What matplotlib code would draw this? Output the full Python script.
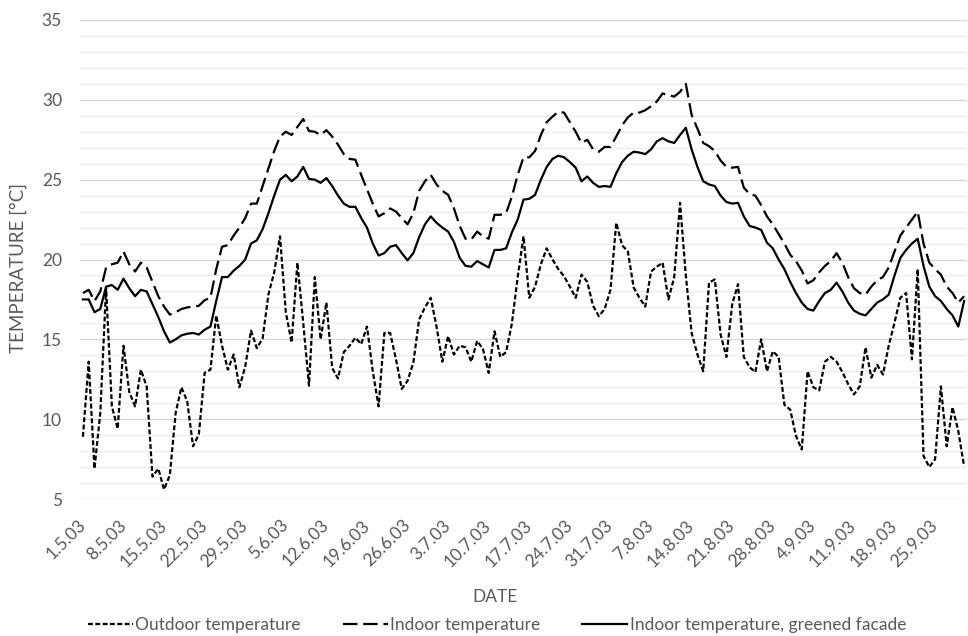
import matplotlib
matplotlib.use("Agg")
import matplotlib.pyplot as plt
from matplotlib.ticker import MultipleLocator, FixedLocator, FixedFormatter

plt.rcParams['font.family'] = ['Lato', 'DejaVu Sans']

tick_labels = ["1.5.03", "8.5.03", "15.5.03", "22.5.03", "29.5.03", "5.6.03", "12.6.03",
               "19.6.03", "26.6.03", "3.7.03", "10.7.03", "17.7.03", "24.7.03", "31.7.03",
               "7.8.03", "14.8.03", "21.8.03", "28.8.03", "4.9.03", "11.9.03", "18.9.03", "25.9.03"]

outdoor = [8.9, 13.6, 6.9, 10.4, 18.2, 10.8, 9.4, 14.6, 11.7, 10.8,
           13.1, 12.05, 6.4, 6.9, 5.6, 6.5, 10.4, 12.0, 11.1, 8.3,
           9.05, 12.9, 13.1, 16.5, 14.6, 13.1, 14.05, 12.0, 13.3, 15.55,
           14.45, 15.05, 17.8, 19.2, 21.45, 16.7, 14.8, 19.8, 16.05, 12.1,
           18.9, 15.0, 17.3, 13.2, 12.55, 14.2, 14.6, 15.1, 14.7, 15.8,
           13.0, 10.8, 15.4, 15.4, 13.75, 11.9, 12.4, 13.55, 16.25, 17.0,
           17.6, 15.8, 13.6, 15.2, 14.05, 14.6, 14.5, 13.6, 14.9, 14.4,
           12.9, 15.5, 13.9, 14.2, 16.0, 18.9, 21.45, 17.6, 18.3, 19.7,
           20.7, 20.0, 19.4, 18.95, 18.3, 17.6, 19.05, 18.6, 17.1, 16.45,
           16.9, 18.1, 22.3, 20.9, 20.5, 18.25, 17.6, 17.05, 19.25, 19.55,
           19.8, 17.5, 18.9, 23.55, 19.0, 15.4, 14.05, 13.0, 18.55, 18.75,
           15.3, 13.9, 17.2, 18.45, 13.9, 13.25, 12.95, 15.0, 13.0, 14.25,
           13.9, 10.9, 10.6, 8.95, 8.1, 13.0, 12.0, 11.8, 13.6, 13.9,
           13.6, 12.95, 12.2, 11.55, 12.05, 14.5, 12.6, 13.4, 12.8, 14.6,
           16.05, 17.6, 17.9, 13.75, 19.4, 7.7, 7.0, 7.5, 12.05, 8.3,
           10.75, 9.25, 7.05]

indoor = [17.9, 18.1, 17.4, 18.0, 19.5, 19.7, 19.8, 20.5, 19.7, 19.25,
          19.8, 19.5, 18.6, 17.7, 17.05, 16.55, 16.7, 16.9, 17.0, 17.05,
          17.1, 17.45, 17.6, 19.4, 20.8, 20.9, 21.5, 22.0, 22.6, 23.5,
          23.5, 24.6, 25.7, 26.8, 27.7, 28.0, 27.8, 28.3, 28.8, 28.05,
          28.0, 27.8, 28.1, 27.7, 27.2, 26.6, 26.3, 26.25, 25.3, 24.4,
          23.5, 22.7, 22.9, 23.2, 23.0, 22.6, 22.2, 22.9, 24.3, 24.9,
          25.3, 24.7, 24.3, 24.05, 23.2, 22.1, 21.3, 21.25, 21.75, 21.45,
          21.3, 22.8, 22.8, 22.9, 23.95, 25.3, 26.4, 26.4, 26.8, 27.8,
          28.6, 28.95, 29.25, 29.2, 28.6, 28.0, 27.3, 27.5, 26.9, 26.75,
          27.05, 27.05, 27.7, 28.4, 28.9, 29.2, 29.2, 29.35, 29.6, 29.9,
          30.4, 30.3, 30.2, 30.5, 31.0, 29.05, 28.2, 27.3, 27.1, 26.8,
          26.2, 25.8, 25.75, 25.8, 24.5, 24.1, 24.0, 23.4, 22.7, 22.2,
          21.6, 21.0, 20.3, 19.9, 19.3, 18.5, 18.7, 19.2, 19.6, 19.9,
          20.4, 19.8, 18.9, 18.2, 17.9, 17.8, 18.3, 18.7, 18.9, 19.5,
          20.5, 21.5, 22.0, 22.5, 23.0, 21.0, 19.8, 19.4, 19.05, 18.3,
          17.9, 17.3, 17.7]

greened = [17.5, 17.5, 16.7, 16.9, 18.3, 18.4, 18.1, 18.8, 18.2, 17.7,
           18.1, 18.0, 17.2, 16.4, 15.5, 14.8, 15.0, 15.25, 15.35, 15.4,
           15.3, 15.6, 15.8, 17.4, 18.9, 18.9, 19.3, 19.6, 20.0, 21.0,
           21.2, 21.9, 22.9, 24.0, 25.0, 25.3, 24.9, 25.2, 25.8, 25.05,
           25.0, 24.8, 25.1, 24.6, 24.0, 23.5, 23.3, 23.3, 22.6, 22.0,
           21.0, 20.25, 20.4, 20.8, 20.9, 20.4, 19.95, 20.4, 21.4, 22.2,
           22.7, 22.3, 22.0, 21.75, 21.1, 20.1, 19.6, 19.55, 19.9, 19.7,
           19.5, 20.6, 20.6, 20.7, 21.7, 22.5, 23.75, 23.8, 24.05, 25.0,
           25.8, 26.3, 26.5, 26.4, 26.1, 25.75, 24.9, 25.2, 24.8, 24.55,
           24.6, 24.55, 25.4, 26.1, 26.5, 26.75, 26.7, 26.6, 26.9, 27.4,
           27.6, 27.4, 27.3, 27.8, 28.25, 26.9, 25.8, 24.9, 24.7, 24.6,
           24.0, 23.6, 23.5, 23.55, 22.7, 22.1, 22.0, 21.85, 21.05, 20.7,
           20.0, 19.4, 18.6, 17.9, 17.3, 16.9, 16.8, 17.4, 17.9, 18.1,
           18.55, 18.0, 17.3, 16.8, 16.6, 16.5, 16.9, 17.3, 17.5, 17.8,
           19.0, 20.1, 20.6, 21.0, 21.3, 19.6, 18.3, 17.7, 17.4, 16.9,
           16.5, 15.8, 17.4]

series_labels = ["Outdoor temperature", "Indoor temperature", "Indoor temperature, greened facade"]

W, H = 968, 636
fig = plt.figure(figsize=(W / 100, H / 100), dpi=100)
ax = fig.add_axes([80 / W, 1 - 499 / H, (967 - 80) / W, (499 - 20) / H])

days = list(range(len(outdoor)))
gray = "#595959"

l1, = ax.plot(days, outdoor, color="black", lw=1.6, linestyle=(0, (2.2, 1.1)), label=series_labels[0])
l2, = ax.plot(days, indoor, color="black", lw=1.6, linestyle=(0, (6.5, 2.6)), label=series_labels[1])
l3, = ax.plot(days, greened, color="black", lw=1.6, linestyle="-", label=series_labels[2])

ax.set_xlim(-0.5, len(days) - 0.5)
ax.set_ylim(5, 35)
ax.yaxis.set_major_locator(MultipleLocator(5))
ax.yaxis.set_minor_locator(MultipleLocator(1))
ax.grid(which="major", axis="y", color="#d9d9d9", lw=1.0, zorder=0)
ax.grid(which="minor", axis="y", color="#efefef", lw=1.0, zorder=0)
ax.set_axisbelow(True)
for s in ax.spines.values():
    s.set_visible(False)

ax.xaxis.set_major_locator(FixedLocator([i * 7 for i in range(len(tick_labels))]))
ax.xaxis.set_major_formatter(FixedFormatter(tick_labels))
ax.tick_params(axis="x", length=0, pad=17, labelsize=12.5, labelcolor=gray)
ax.tick_params(axis="y", which="both", length=0, pad=13, labelsize=12.5, labelcolor=gray)
for lab in ax.get_xticklabels():
    lab.set_rotation(45)
    lab.set_ha("right")
    lab.set_va("center")
    lab.set_rotation_mode("anchor")

fig.text(18 / W, 1 - 268 / H, "TEMPERATURE [°C]", rotation=90, ha="center", va="center",
         fontsize=13.5, color=gray)
fig.text(495 / W, 1 - 597 / H, "DATE", ha="center", va="center", fontsize=12.5, color=gray)

leg = fig.legend(handles=[l1, l2, l3], loc="center", bbox_to_anchor=(497 / W, 1 - 625 / H),
                 ncol=3, frameon=False, fontsize=12.5, handlelength=2.6, handletextpad=0.15,
                 columnspacing=2.4, borderaxespad=0, borderpad=0)
for t in leg.get_texts():
    t.set_color(gray)

fig.savefig("out.png", dpi=100)
